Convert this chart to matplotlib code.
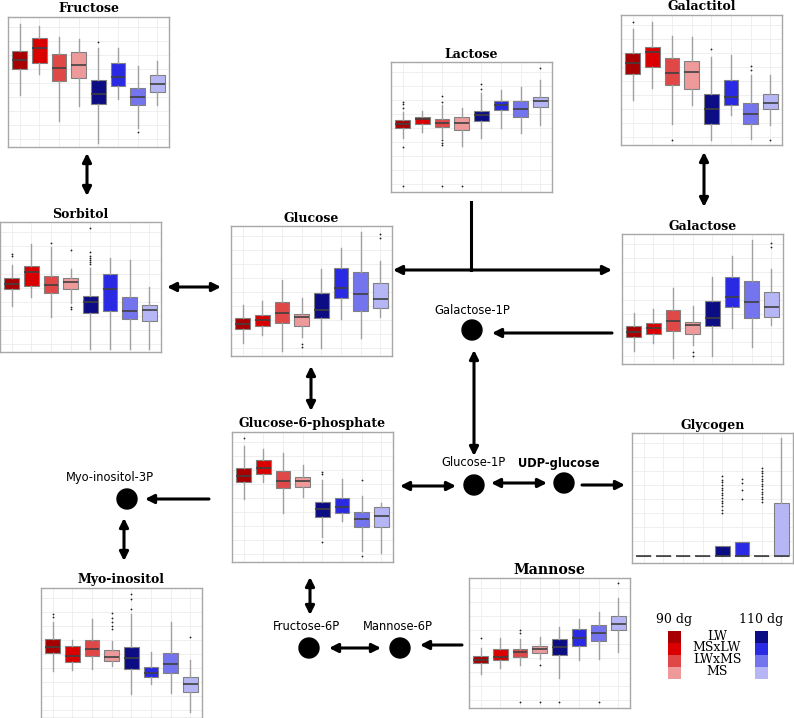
import numpy as np
import matplotlib
matplotlib.use('Agg')
import matplotlib.pyplot as plt
from matplotlib.patches import Circle, Rectangle

W, H = 794, 718

groups = ['LW', 'MSxLW', 'LWxMS', 'MS', 'LW', 'MSxLW', 'LWxMS', 'MS']
colors = ['#a80000', '#db0000', '#e04848', '#ee9a9a',
          '#0c0c84', '#2a2ae4', '#7474ee', '#b6b6f6']

# box stats per group: [low whisker, q1, median, q3, high whisker]
fructose = [[40, 59.8, 66.7, 73.8, 94.6], [55.9, 64.4, 76.4, 83.6, 93.3],
            [20.2, 50.8, 60.5, 71.3, 84.8], [31.8, 52.8, 63.3, 73.3, 83.1],
            [3, 33.1, 40.5, 51.5, 76.4], [36.9, 47.2, 53.6, 64.4, 75.9],
            [14.8, 32.3, 38.7, 45.6, 62.3], [32.3, 42.1, 48.5, 55.2, 66.4]]
fructose_out = [[], [], [], [], [80.5], [], [11.5], []]

galactitol = [[34.6, 54.6, 62.8, 70.5, 89], [44.1, 60.2, 71.8, 75.2, 94.4],
              [16.2, 45.9, 55.6, 66.7, 83.8], [30.8, 43.1, 55.9, 64.6, 82.8],
              [3.8, 16.2, 27.7, 39, 67.9], [23.1, 30.8, 37.2, 49.8, 69.2],
              [4.4, 16.2, 23.6, 32.1, 53.8], [15.4, 27.5, 32.5, 39, 53.8]]
galactitol_out = [[94.8], [], [3.8], [], [73.8], [], [60.8, 57.7], [3.8]]

lactose = [[41.8, 49, 52.3, 55.4, 61.8], [46.4, 52.5, 56.2, 57.9, 62.3],
           [41.5, 49.8, 53.3, 56.2, 66.9], [35.4, 47.7, 53.3, 57.9, 64.4],
           [41.3, 54.4, 59, 62.5, 76.4], [49, 63.1, 66.9, 70, 78.5],
           [45.2, 57.9, 63.8, 69.8, 81], [51.5, 65.2, 69.8, 73.3, 86.2]]
lactose_out = [[69, 67.5, 64.4, 34.8, 4.8], [], [73.8, 69.5, 40, 37.4, 36.2, 4.8],
               [4.8], [82.8, 79], [], [], [95.6]]

sorbitol = [[35.4, 48.2, 52.1, 56.7, 66.9], [42.5, 51, 61.5, 66.4, 82.8],
            [27.2, 45.2, 51.3, 58.7, 81], [37.5, 48.2, 53.6, 56.7, 63.8],
            [2, 29.8, 38.2, 43.3, 64.4], [2, 31.8, 48.2, 59.8, 72.5],
            [2, 25.4, 31.8, 42.1, 70.8], [2, 23.8, 32.3, 36.2, 49.8]]
sorbitol_out = [[75.2, 74.1], [], [83.6], [78.5, 34.4, 33.1],
                [95.1, 76.7, 73.8, 72.3, 71, 69.5, 68], [], [], []]

glucose = [[9.8, 20.5, 24.4, 29, 39.2], [16.2, 23.1, 27.7, 31.5, 42.3],
           [4.1, 25.4, 32.8, 41.3, 58.5], [14.8, 23.1, 30, 32.3, 44.8],
           [6.4, 29, 35.6, 48.2, 66.9], [28.2, 44.4, 52.1, 67.4, 83.3],
           [13.6, 34.8, 47.5, 64.4, 95.6], [30.2, 36.7, 43.6, 55.9, 73.1]]
glucose_out = [[], [], [], [9.2, 6.7], [], [], [], [93.6, 90.5]]

galactose = [[10.2, 20.5, 24.6, 29.2, 39], [16.4, 23.1, 27.4, 31.3, 42.3],
             [4.4, 25.4, 33.1, 41.5, 58.2], [14.6, 22.8, 30, 32.1, 44.6],
             [6.4, 29, 35.6, 48.5, 67.2], [27.9, 44.1, 51.8, 67.2, 83.1],
             [13.3, 35.2, 47.7, 63.8, 95.4], [30, 36.4, 43.6, 55.4, 72.8]]
galactose_out = [[], [], [], [9.5, 6.4], [], [], [], [93.3, 90.2]]

g6p = [[48.5, 61.8, 66.4, 72.5, 89.2], [61.8, 67.7, 72.1, 78.5, 86.7],
       [37.5, 56.7, 62.3, 70, 84.1], [49.8, 57.9, 62.3, 65.6, 74.6],
       [19.5, 34.8, 40.5, 46.4, 63.1], [31.8, 37.9, 42.5, 49, 63.8],
       [8.7, 26.7, 32.8, 38.2, 50.8], [6.7, 27.2, 35.4, 42.1, 45.2]]
g6p_out = [[95.6], [], [], [], [69, 67.5, 15.6], [], [63.1, 4.6], []]

glycogen = [[5.4, 5.4, 5.4, 5.4, 5.4], [5.4, 5.4, 5.4, 5.4, 5.4],
            [5.4, 5.4, 5.4, 5.4, 5.4], [5.4, 5.4, 5.4, 5.4, 5.4],
            [5.4, 5.4, 5.4, 13.3, 13.3], [5.4, 5.4, 5.4, 15.9, 15.9],
            [5.4, 5.4, 5.4, 5.4, 5.4], [5.4, 5.4, 5.4, 46.4, 95.9]]
glycogen_out = [[], [], [], [],
                [38.2, 41, 44, 46, 48, 50, 52, 54, 56, 58, 60, 62, 64, 66.9],
                [49, 56.2, 61.8, 64.4],
                [47.2, 49, 51, 53, 55, 57, 59, 61, 63, 65, 67, 69, 71, 73.3],
                []]

myo = [[36.2, 50.2, 54.8, 60.5, 74.1], [36.9, 42.8, 47.7, 55.6, 60],
       [37.7, 47.9, 53.1, 59.8, 76.2], [40.2, 43.8, 47.2, 52.3, 59.2],
       [18.2, 37.4, 45.9, 54.8, 80], [26.2, 31.3, 34.4, 39.5, 50.5],
       [19, 34.8, 41.3, 50, 73.6], [4.6, 20, 26.2, 31.5, 44.6]]
myo_out = [[80, 77.4], [], [], [80.5, 76.7, 73.6, 71, 68.2],
           [95.1, 91.3, 83.8], [], [], [62.3]]

mannose = [[26.2, 34.4, 36.9, 40, 45.9], [31, 36.9, 39.5, 45.2, 53.6],
           [33.1, 39.5, 43.3, 45.6, 52.8], [37.4, 42.5, 45.4, 47.5, 54.4],
           [22.8, 40.8, 47.2, 52.8, 62.5], [36.9, 47.7, 53.6, 60.5, 68.2],
           [37.4, 51.5, 57.4, 63.8, 74.1], [43.3, 60, 64.4, 71, 84.4]]
mannose_out = [[54.1], [], [60, 57.9, 4.4], [33.1, 4.4], [4.4], [], [4.4], [95.9]]

# panel name, data, outliers, frame (left, top) in pixels, title size
panels = [
    ('Fructose', fructose, fructose_out, (8, 17), 9),
    ('Galactitol', galactitol, galactitol_out, (621, 15), 9),
    ('Lactose', lactose, lactose_out, (391, 62), 9),
    ('Sorbitol', sorbitol, sorbitol_out, (0, 222), 9),
    ('Glucose', glucose, glucose_out, (231, 226), 9),
    ('Galactose', galactose, galactose_out, (622, 234), 9),
    ('Glucose-6-phosphate', g6p, g6p_out, (232, 432), 9),
    ('Glycogen', glycogen, glycogen_out, (632, 433), 9),
    ('Myo-inositol', myo, myo_out, (41, 588), 9),
    ('Mannose', mannose, mannose_out, (469, 578), 10.2),
]
PW, PH = 161, 130

fig = plt.figure(figsize=(W / 100, H / 100), dpi=100)

# overlay for arrows, metabolites and legend (pixel coordinates)
ov = fig.add_axes([0, 0, 1, 1], zorder=0)
ov.set_xlim(0, W)
ov.set_ylim(H, 0)
ov.axis('off')


def draw_panel(name, data, outs, pos, tsize):
    x0, y0 = pos
    ax = fig.add_axes([x0 / W, 1 - (y0 + PH) / H, PW / W, PH / H], zorder=2)
    stats = []
    for d, o in zip(data, outs):
        stats.append(dict(whislo=d[0], q1=d[1], med=d[2], q3=d[3], whishi=d[4], fliers=o))
    bp = ax.bxp(stats, positions=range(1, 9), widths=0.75, patch_artist=True,
                showcaps=False,
                boxprops=dict(edgecolor='#808080', linewidth=0.8),
                whiskerprops=dict(color='#a0a0a0', linewidth=1.0),
                medianprops=dict(color='#404040', linewidth=1.2),
                flierprops=dict(marker='o', markersize=1.3, markerfacecolor='#202020',
                                markeredgecolor='none'))
    for box, c in zip(bp['boxes'], colors):
        box.set_facecolor(c)
    ax.set_xlim(0.4, 8.6)
    ax.set_ylim(0, 100)
    for x in range(1, 9):
        ax.axvline(x, color='#ececec', lw=0.6, zorder=0)
    for y in np.arange(6, 100, 10.8):
        ax.axhline(y, color='#ececec', lw=0.6, zorder=0)
    ax.set_xticks([])
    ax.set_yticks([])
    for s in ax.spines.values():
        s.set_color('#a8a8a8')
        s.set_linewidth(1.0)
    ov.text(x0 + PW / 2, y0 - 8, name, ha='center', va='center', fontsize=tsize,
            fontweight='bold', family='DejaVu Serif')


for p in panels:
    draw_panel(*p)


def arrow(x1, y1, x2, y2, both=True):
    ov.annotate('', xy=(x2, y2), xytext=(x1, y1),
                arrowprops=dict(arrowstyle='<|-|>' if both else '-|>', lw=2.2,
                                color='black', mutation_scale=13, shrinkA=0, shrinkB=0))


arrow(87, 153, 87, 196)
arrow(704, 152, 704, 207)
arrow(167, 287, 221, 287)
ov.plot([471, 471], [202, 270], color='black', lw=2.2)
arrow(393, 270, 612, 270)
arrow(612, 333, 492, 333, both=False)
arrow(311, 366, 311, 411)
arrow(474, 350, 474, 456)
arrow(400, 486, 456, 486)
arrow(491, 483, 547, 483)
arrow(582, 485, 625, 485, both=False)
arrow(209, 499, 145, 499, both=False)
arrow(124, 518, 124, 561)
arrow(310, 577, 310, 615)
arrow(329, 648, 381, 648)
arrow(462, 645, 420, 645, both=False)

nodes = [('Galactose-1P', 472, 330, 472, 310, 'normal'),
         ('Glucose-1P', 474, 485, 474, 463, 'normal'),
         ('UDP-glucose', 564, 483, 559, 463, 'bold'),
         ('Myo-inositol-3P', 127, 499, 110, 478, 'normal'),
         ('Fructose-6P', 309, 648, 307, 627, 'normal'),
         ('Mannose-6P', 400, 648, 398, 627, 'normal')]
for lab, cx, cy, tx, ty, fw in nodes:
    ov.add_patch(Circle((cx, cy), 10, color='black', zorder=3))
    ov.text(tx, ty, lab, ha='center', va='center', fontsize=8.3, fontweight=fw,
            family='DejaVu Sans')

# legend
leg_labels = ['LW', 'MSxLW', 'LWxMS', 'MS']
for i in range(4):
    ov.add_patch(Rectangle((668, 631 + 12 * i), 13, 12, color=colors[i], lw=0))
    ov.add_patch(Rectangle((755, 631 + 12 * i), 13, 12, color=colors[i + 4], lw=0))
    ov.text(717, 636 + 11.7 * i, leg_labels[i], ha='center', va='center',
            fontsize=9, family='DejaVu Serif')
ov.text(674, 619, '90 dg', ha='center', va='center', fontsize=9, family='DejaVu Serif')
ov.text(761, 619, '110 dg', ha='center', va='center', fontsize=9, family='DejaVu Serif')

fig.savefig('out.png', dpi=100)
